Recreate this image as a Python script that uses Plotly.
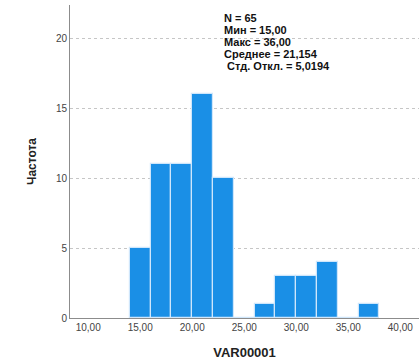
import plotly.graph_objects as go

# Histogram of VAR00001: bin starts (width 2) and frequencies
bin_starts = [14, 16, 18, 20, 22, 24, 26, 28, 30, 32, 34, 36]
counts = [5, 11, 11, 16, 10, 0, 1, 3, 3, 4, 0, 1]
bin_width = 2

x_ticks = [10, 15, 20, 25, 30, 35, 40]
x_tick_labels = ["10,00", "15,00", "20,00", "25,00", "30,00", "35,00", "40,00"]
y_ticks = [0, 5, 10, 15, 20]

stats_lines = ["N = 65", "Мин = 15,00", "Макс = 36,00", "Среднее = 21,154", " Стд. Откл. = 5,0194"]

W, H = 419, 363
ML, MR, MT, MB = 70, 0, 5, 45

centers = [s + bin_width / 2 for s in bin_starts]

fig = go.Figure(
    go.Bar(
        x=centers,
        y=counts,
        width=[bin_width] * len(centers),
        marker=dict(color="#1a8fe6", line=dict(color="#cfe6fb", width=1.2)),
        hoverinfo="x+y",
    )
)

font_family = "Liberation Sans, Arial, sans-serif"

fig.update_layout(
    width=W,
    height=H,
    margin=dict(l=ML, r=MR, t=MT, b=MB),
    paper_bgcolor="white",
    plot_bgcolor="white",
    showlegend=False,
    bargap=0,
    font=dict(family=font_family, color="#444444", size=10),
    xaxis=dict(
        range=[8.25, 41.8],
        tickvals=x_ticks,
        ticktext=x_tick_labels,
        showgrid=False,
        zeroline=False,
        showline=True,
        linecolor="#8c8c8c",
        linewidth=1,
        ticks="",
        tickfont=dict(size=10, color="#444444"),
        title=dict(text="<b>VAR00001</b>", font=dict(size=13, color="#222222"), standoff=15),
    ),
    yaxis=dict(
        range=[0, 22.4],
        tickvals=y_ticks,
        showgrid=True,
        gridcolor="#c6c6c6",
        griddash="dot",
        gridwidth=1,
        zeroline=False,
        showline=True,
        linecolor="#8c8c8c",
        linewidth=1,
        ticks="",
        tickfont=dict(size=10, color="#444444"),
        title=dict(text="<b>Частота</b>", font=dict(size=12, color="#222222"), standoff=16),
    ),
)

# Summary statistics block, one annotation per line
plot_w = W - ML - MR
plot_h = H - MT - MB
x_left_px = 222
first_line_px = 18
line_step_px = 12
for i, line in enumerate(stats_lines):
    y_px = first_line_px + i * line_step_px
    fig.add_annotation(
        x=(x_left_px - ML) / plot_w,
        y=1 - (y_px - MT) / plot_h,
        xref="paper",
        yref="paper",
        text="<b>" + line.replace(" ", "&nbsp;") + "</b>",
        showarrow=False,
        xanchor="left",
        yanchor="middle",
        align="left",
        font=dict(size=11, color="#111111", family=font_family),
    )

fig.write_html("out.html")
